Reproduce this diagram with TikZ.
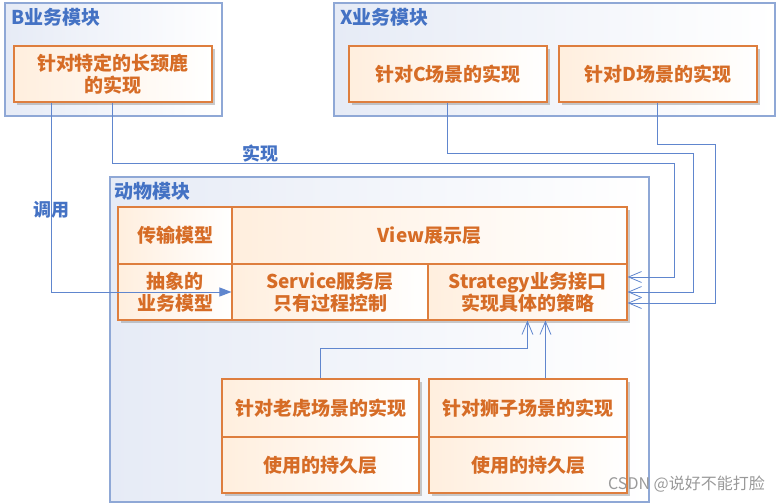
\documentclass[tikz,border=0pt]{standalone}
\usepackage{fontspec}
\newfontfamily\cjk{Noto Sans CJK SC}
\usetikzlibrary{calc,shadows,arrows.meta}
\definecolor{modblue}{RGB}{68,114,196}
\definecolor{modline}{RGB}{143,168,214}
\definecolor{modfill}{RGB}{230,235,246}
\definecolor{boxline}{RGB}{222,126,62}
\definecolor{boxtext}{RGB}{214,108,38}
\definecolor{linkblue}{RGB}{96,134,206}
\begin{document}
\begin{tikzpicture}[x=1pt, y=-1pt,
    module/.style={draw=modline, line width=1.4pt, rectangle, left color=modfill, right color=white, inner sep=0pt},
    title/.style={text=modblue, font=\cjk\bfseries\fontsize{19}{22}\selectfont, anchor=west, inner sep=0pt},
    box/.style={draw=boxline, line width=1.1pt, rectangle, left color=orange!13!white, right color=white,
                text=boxtext, font=\cjk\bfseries\fontsize{19}{22}\selectfont, align=center, inner sep=0pt},
    shade box/.style={box, drop shadow={shadow xshift=3pt, shadow yshift=-3pt, fill=black!45, opacity=.45}},
    back/.style={rectangle, fill=white, inner sep=0pt,
                 drop shadow={shadow xshift=3pt, shadow yshift=-3pt, fill=black!45, opacity=.45}},
    linktext/.style={text=modblue, font=\cjk\bfseries\fontsize{18}{20}\selectfont, inner sep=1pt},
    call/.style={draw=linkblue, line width=1pt, -{Triangle[length=12pt,width=9pt]}},
    impl/.style={draw=linkblue, line width=1pt, -{Straight Barb[length=13pt,width=11pt,line width=0.8pt]}}]
    \useasboundingbox (0,0) rectangle (777,503);
    % modules
    \node[module, minimum width=217pt, minimum height=113pt] (bmod) at (113.5,59.5) {};
    \node[module, minimum width=441pt, minimum height=113pt] (xmod) at (554.5,59.5) {};
    \node[module, minimum width=539pt, minimum height=325pt] (amod) at (379.5,339.5) {};
    \node[title] (btitle) at ($(bmod.north west)+(7,15)$) {B业务模块};
    \node[title] (xtitle) at ($(xmod.north west)+(7,15)$) {X业务模块};
    \node[title] (atitle) at ($(amod.north west)+(5,15)$) {动物模块};
    % business implementations
    \node[shade box, minimum width=198pt, minimum height=56pt] (bimpl) at (113,74)  {针对特定的长颈鹿\\的实现};
    \node[shade box, minimum width=198pt, minimum height=56pt] (cimpl) at (448,74)  {针对C场景的实现};
    \node[shade box, minimum width=198pt, minimum height=56pt] (dimpl) at (658,74)  {针对D场景的实现};
    % animal module layers
    \node[back, minimum width=509pt, minimum height=113pt] (tbl) at (372.5,263.5) {};
    \node[box, minimum width=114pt, minimum height=57pt] (trans) at (175,235.5)   {传输模型};
    \node[box, minimum width=395pt, minimum height=57pt] (view)  at (429.5,235.5) {View展示层};
    \node[box, minimum width=114pt, minimum height=56pt] (abs)   at (175,292)     {抽象的\\业务模型};
    \node[box, minimum width=196pt, minimum height=56pt] (srv)   at (330,292)     {Service服务层\\只有过程控制};
    \node[box, minimum width=199pt, minimum height=56pt] (strat) at (527.5,292)   {Strategy业务接口\\实现具体的策略};
    % animal scenes
    \node[back, minimum width=197pt, minimum height=114pt] (tigerbk) at (320.5,436) {};
    \node[back, minimum width=198pt, minimum height=114pt] (lionbk)  at (528,436)   {};
    \node[box, minimum width=197pt, minimum height=58pt] (tiger)  at (320.5,408) {针对老虎场景的实现};
    \node[box, minimum width=197pt, minimum height=56pt] (tigerp) at (320.5,465) {使用的持久层};
    \node[box, minimum width=198pt, minimum height=58pt] (lion)   at (528,408)   {针对狮子场景的实现};
    \node[box, minimum width=198pt, minimum height=56pt] (lionp)  at (528,465)   {使用的持久层};
    % connectors
    \draw[call] ($(bimpl.south west)+(38,0)$) |- node[linktext, pos=0.284] (calltext) {调用} (srv.west);
    \foreach \src/\down/\right/\off in {bimpl/61/47/-15, cimpl/51/66/0, dimpl/42/88/11}
        \draw[impl] ($(\src.south west)+(99,0)$) -- ++(0,\down) -| ($(strat.east)+(\right,\off)$) -- ($(strat.east)+(0,\off)$);
    \node[linktext, anchor=south] (impltext) at (260,163) {实现};
    \draw[impl] ($(tiger.north west)+(99,0)$) -- ++(0,-30) -| ($(strat.south west)+(100,0)$);
    \draw[impl] ($(lion.north west)+(117,0)$) -- ($(strat.south west)+(118,0)$);
    % watermark
    \node[text=black!40, font=\cjk\fontsize{16}{18}\selectfont, anchor=east, inner sep=0pt] (mark) at (765,484) {CSDN @说好不能打脸};
\end{tikzpicture}
\end{document}
